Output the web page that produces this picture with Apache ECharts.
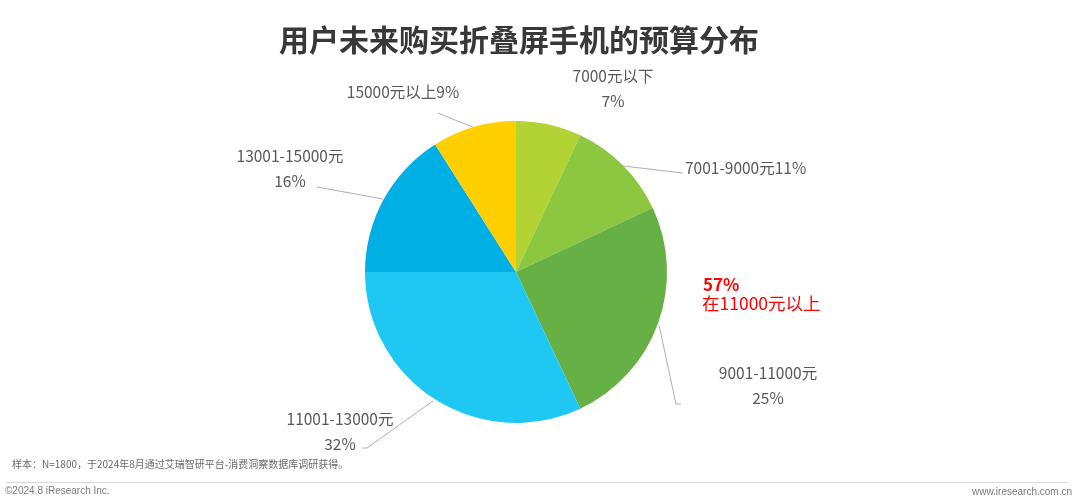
<!DOCTYPE html>
<html><head><meta charset="utf-8">
<script src="https://cdn.jsdelivr.net/npm/echarts@6/dist/echarts.min.js"></script>
<style>html,body{margin:0;padding:0;background:#fff}#c{width:1080px;height:503px}</style>
</head><body><div id="c"></div>
<script>
// ---- data ----
var categories = ['7000元以下', '7001-9000元', '9001-11000元', '11001-13000元', '13001-15000元', '15000元以上'];
var shares = [7, 11, 25, 32, 16, 9];
var labelBreak = [true, false, true, true, true, false];
var titleText = '用户未来购买折叠屏手机的预算分布';
var noteText = '样本：N=1800，于2024年8月通过艾瑞智研平台-消费洞察数据库调研获得。';
var calloutValue = '57%';
var calloutText = '在11000元以上';

// ---- layout / style ----
var colors = ['#b3d234', '#8dc63f', '#67b046', '#1fc8f3', '#00afe3', '#ffcf00'];
var FONT = '"Noto Sans CJK SC", "Noto Sans", sans-serif';
var labelPos = [
  {x: 613, y: 89, align: 'center', line: null},
  {x: 685, y: 168, align: 'left', line: [[623,166],[653,169.5],[683,173]]},
  {x: 768, y: 386, align: 'center', line: [[659,325],[676,404],[681,404]]},
  {x: 340, y: 432, align: 'center', line: [[433,401],[367,448],[362,448]]},
  {x: 290, y: 169, align: 'center', line: [[383,199],[350,193],[317,187]]},
  {x: 403, y: 92, align: 'center', line: [[473,127],[455,120],[438,113]]}
];

var seriesData = categories.map(function (c, i) {
  return {
    name: c, value: shares[i],
    itemStyle: {color: colors[i]},
    labelLine: {show: !!labelPos[i].line}
  };
});

var chart = echarts.init(document.getElementById('c'));
chart.setOption({
  animation: false,
  backgroundColor: '#fff',
  title: {
    text: titleText, left: 274, top: 20,
    textStyle: {fontFamily: FONT, fontSize: 30, fontWeight: 'bold', color: '#383838'}
  },
  series: [{
    type: 'pie',
    center: [516, 272],
    radius: [0, 151],
    startAngle: 90,
    clockwise: true,
    avoidLabelOverlap: false,
    data: seriesData,
    label: {
      show: true,
      fontFamily: FONT, fontSize: 15.5, color: '#595959', lineHeight: 25,
      formatter: function (p) {
        return p.name + (labelBreak[p.dataIndex] ? '\n' : '') + p.value + '%';
      }
    },
    labelLine: {show: true, lineStyle: {color: '#b0b0b0', width: 1}},
    labelLayout: function (p) {
      var lp = labelPos[p.dataIndex];
      var o = {x: lp.x, y: lp.y, align: lp.align, verticalAlign: 'middle'};
      if (lp.line) o.labelLinePoints = lp.line;
      return o;
    }
  }],
  graphic: [
    {type: 'text', left: 703, top: 276, style: {text: calloutValue, fontFamily: FONT, fontSize: 17, fontWeight: 'bold', fill: '#ff0000'}},
    {type: 'text', left: 702, top: 295, style: {text: calloutText, fontFamily: FONT, fontSize: 17.5, fill: '#ff0000'}},
    {type: 'text', left: 12, top: 459, style: {text: noteText, fontFamily: FONT, fontSize: 10, fill: '#6a6a6a'}},
    {type: 'line', shape: {x1: 6, y1: 482.5, x2: 1068, y2: 482.5}, style: {stroke: '#d9d9d9', lineWidth: 1}},
    {type: 'text', left: 5, top: 486, style: {text: '©2024.8 iResearch Inc.', fontFamily: 'Liberation Sans, Arial, sans-serif', fontSize: 10, fill: '#7a7a7a'}},
    {type: 'text', right: 8, top: 487, style: {text: 'www.iresearch.com.cn', fontFamily: 'Liberation Sans, Arial, sans-serif', fontSize: 10, fill: '#7a7a7a'}}
  ]
});
</script></body></html>
